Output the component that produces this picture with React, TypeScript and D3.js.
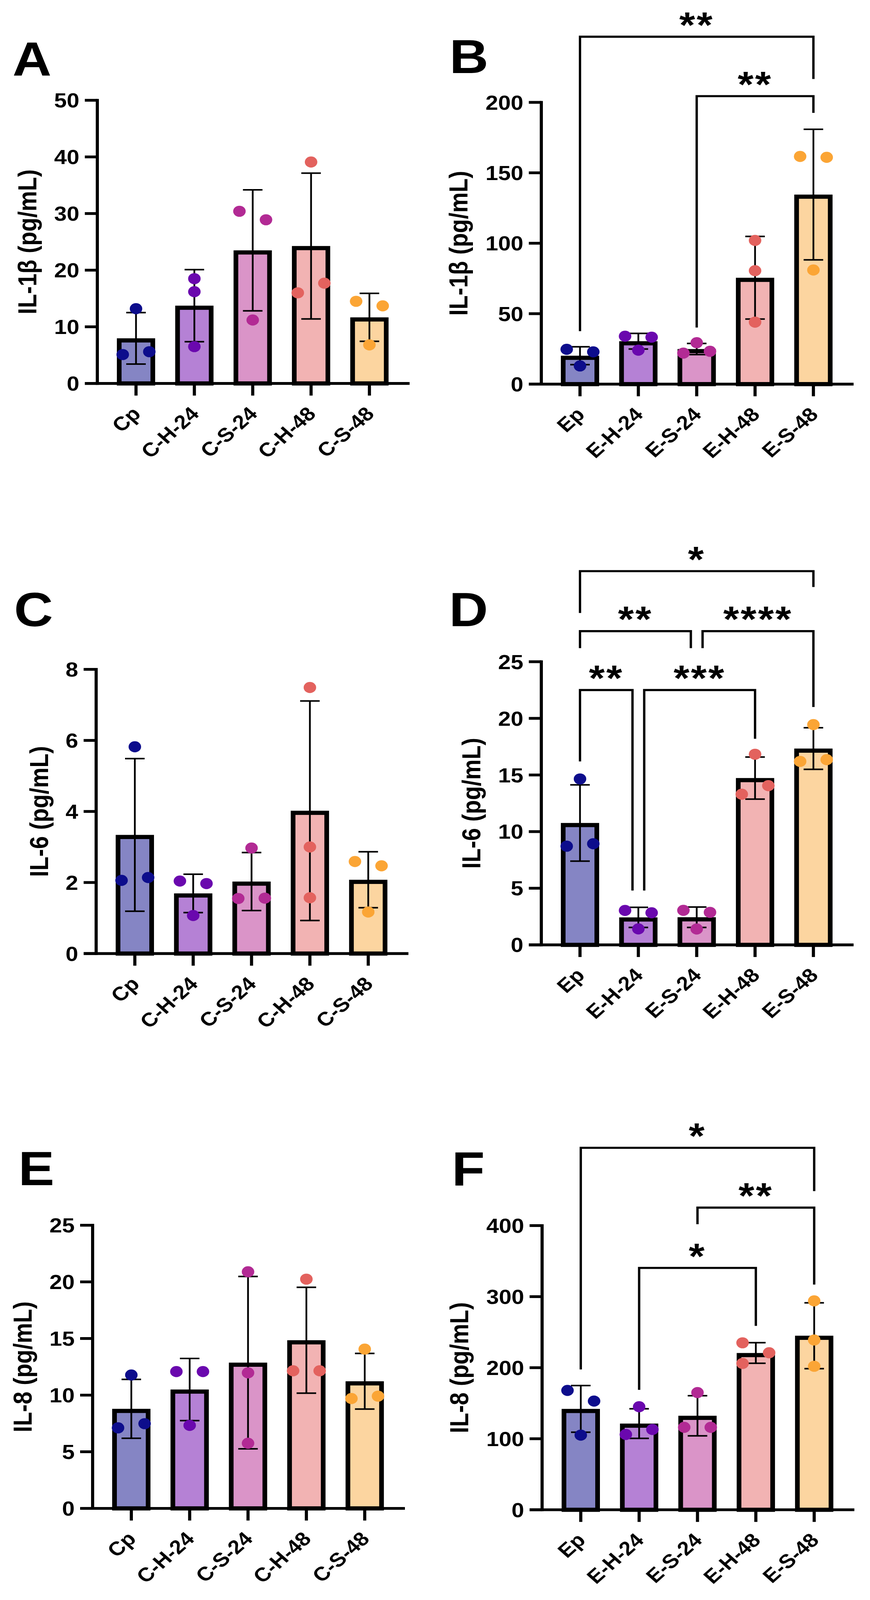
import React, { useEffect } from "react";
import * as d3 from "d3";

// ---------- data ----------
const cCats = ["Cp", "C-H-24", "C-S-24", "C-H-48", "C-S-48"];
const eCats = ["Ep", "E-H-24", "E-S-24", "E-H-48", "E-S-48"];

// replicate values per group (bar = mean, error bar = SD)
const il1bC = [[13.2, 5.1, 5.6], [18.5, 16.2, 6.5], [30.4, 28.9, 11.2], [39.1, 16.0, 17.7], [14.5, 13.7, 6.8]];
const il1bE = [[24.7, 22.9, 12.9], [34.0, 33.3, 24.1], [22.0, 23.3, 29.4], [102, 80.5, 44], [161.6, 161, 81]];
const il6C = [[5.82, 2.06, 2.14], [2.04, 1.97, 1.07], [2.97, 1.55, 1.56], [7.49, 3.0, 1.57], [2.59, 2.47, 1.17]];
const il6E = [[14.65, 8.71, 8.93], [3.04, 2.83, 1.41], [3.05, 2.87, 1.4], [16.83, 13.3, 14.06], [19.45, 16.2, 16.35]];
const il8C = [[11.78, 7.11, 7.48], [12.08, 12.08, 7.33], [20.89, 11.97, 5.75], [20.24, 12.15, 12.15], [14.06, 9.7, 9.91]];
const il8E = [[168, 153, 105], [145, 106, 113], [165, 116, 116], [235, 221, 206], [294, 239, 202]];

const ticksA = [0, 10, 20, 30, 40, 50];
const ticksB = [0, 50, 100, 150, 200];
const ticksC = [0, 2, 4, 6, 8];
const ticksD = [0, 5, 10, 15, 20, 25];
const ticksE = [0, 5, 10, 15, 20, 25];
const ticksF = [0, 100, 200, 300, 400];

// significance comparisons: groups a-b, bracket level, leg ends (data units), label
const sigA: any[] = [];
const sigB = [
  { a: 0, b: 4, y: 246.6, la: 37.6, lb: 216.6, t: "**" },
  { a: 2, b: 4, y: 204.4, la: 40.2, lb: 192.5, t: "**" },
];
const sigC: any[] = [];
const sigD = [
  { a: 0, b: 4, y: 33.0, la: 29.3, lb: 31.6, t: "*" },
  { a: 0, b: 2, y: 27.7, la: 26.2, lb: 26.2, t: "**" },
  { a: 2, b: 4, y: 27.7, la: 26.2, lb: 21.0, t: "****" },
  { a: 0, b: 1, y: 22.5, la: 16.2, lb: 4.8, t: "**" },
  { a: 1, b: 3, y: 22.5, la: 4.8, lb: 18.2, t: "***" },
];
const sigE: any[] = [];
const sigF = [
  { a: 0, b: 4, y: 509.5, la: 197.6, lb: 448.5, t: "*" },
  { a: 2, b: 4, y: 425.3, la: 402, lb: 317, t: "**" },
  { a: 1, b: 3, y: 340.4, la: 168.8, lb: 258.9, t: "*" },
];

const fills = ["#8585C4", "#B581D5", "#DA94C8", "#F2B3B3", "#FCD5A0"];
const dotColors = ["#0D0D8C", "#6A08AE", "#B22A94", "#E3625E", "#FBA535"];

// ---------- layout ----------
const FONT = "'Liberation Sans', Arial, Helvetica, sans-serif";
const panels = [
  { letter: "A", title: "IL-1β (pg/mL)", cats: cCats, data: il1bC, ticks: ticksA, sig: sigA, axisX: 249, zeroY: 1105, topY: 289, lx: 32, ly: 218 },
  { letter: "B", title: "IL-1β (pg/mL)", cats: eCats, data: il1bE, ticks: ticksB, sig: sigB, axisX: 1385, zeroY: 1107, topY: 295, lx: 1150, ly: 211 },
  { letter: "C", title: "IL-6 (pg/mL)", cats: cCats, data: il6C, ticks: ticksC, sig: sigC, axisX: 246, zeroY: 2748, topY: 1929, lx: 36, ly: 1805 },
  { letter: "D", title: "IL-6 (pg/mL)", cats: eCats, data: il6E, ticks: ticksD, sig: sigD, axisX: 1385, zeroY: 2723, topY: 1907, lx: 1149, ly: 1805 },
  { letter: "E", title: "IL-8 (pg/mL)", cats: cCats, data: il8C, ticks: ticksE, sig: sigE, axisX: 237, zeroY: 4347, topY: 3531, lx: 47, ly: 3416 },
  { letter: "F", title: "IL-8 (pg/mL)", cats: eCats, data: il8E, ticks: ticksF, sig: sigF, axisX: 1387, zeroY: 4351, topY: 3532, lx: 1156, ly: 3417 },
];

const STEP = 149.3;
const FIRST = 99;
const BAR_W = 86;
const BAR_STROKE = 12;
const R = 16;
const SPREAD = 34;
const AXIS_W = 8;

function Panel({ p }: { p: any }) {
  const max = p.ticks[p.ticks.length - 1];
  const y = d3.scaleLinear().domain([0, max]).range([p.zeroY, p.topY]);
  const x = d3.scalePoint<string>().domain(p.cats).range([p.axisX + FIRST, p.axisX + FIRST + 4 * STEP]);
  const stats = p.data.map((v: number[]) => ({ mean: d3.mean(v) as number, sd: d3.deviation(v) as number }));

  // simple beeswarm: overlapping points are spread to the sides of the bar centre
  const swarm = p.data.map((vals: number[]) => {
    const placed: { v: number; slot: number }[] = [];
    const hits = (v: number, slot: number | null) =>
      placed.filter((q) => (slot === null || q.slot === slot) && Math.abs(y(q.v) - y(v)) < 2 * R);
    vals.forEach((v) => {
      const centre = hits(v, 0);
      if (centre.length) {
        centre.forEach((q) => (q.slot = -1));
        placed.push({ v, slot: 1 });
      } else if (hits(v, null).length) {
        const side = [-1, 1].find((s) => hits(v, s).length === 0);
        placed.push({ v, slot: side === undefined ? 0 : side });
      } else placed.push({ v, slot: 0 });
    });
    return placed;
  });

  const digits = d3.max(p.ticks, (t: number) => String(t).length) as number;
  const titleX = p.axisX - (90 + 33 * digits);
  const midY = (p.zeroY + p.topY) / 2;

  return (
    <g>
      <text x={p.lx} y={p.ly} fontSize={138} fontWeight="bold" fontFamily={FONT}>
        {p.letter}
      </text>
      {/* bars */}
      {p.cats.map((c: string, i: number) => {
        const top = y(stats[i].mean) + BAR_STROKE / 2;
        return (
          <rect
            key={"b" + i}
            x={(x(c) as number) - BAR_W / 2}
            y={top}
            width={BAR_W}
            height={Math.max(0, p.zeroY - top)}
            fill={fills[i]}
            stroke="#000"
            strokeWidth={BAR_STROKE}
          />
        );
      })}
      {/* error bars */}
      {p.cats.map((c: string, i: number) => {
        const cx = x(c) as number;
        const hi = y(stats[i].mean + stats[i].sd);
        const lo = y(Math.max(0, stats[i].mean - stats[i].sd));
        return (
          <g key={"e" + i} stroke="#000" strokeWidth={4.5}>
            <line x1={cx} x2={cx} y1={hi} y2={lo} />
            <line x1={cx - 25} x2={cx + 25} y1={hi} y2={hi} />
            <line x1={cx - 25} x2={cx + 25} y1={lo} y2={lo} />
          </g>
        );
      })}
      {/* points */}
      {p.cats.map((c: string, i: number) =>
        swarm[i].map((d: any, k: number) => (
          <circle key={"d" + i + "_" + k} cx={(x(c) as number) + d.slot * SPREAD} cy={y(d.v)} r={R} fill={dotColors[i]} />
        ))
      )}
      {/* y axis */}
      <line x1={p.axisX} x2={p.axisX} y1={p.zeroY} y2={p.topY} stroke="#000" strokeWidth={AXIS_W} strokeLinecap="square" />
      {p.ticks.map((t: number) => (
        <g key={"t" + t}>
          <line x1={p.axisX - 32} x2={p.axisX} y1={y(t)} y2={y(t)} stroke="#000" strokeWidth={AXIS_W} />
          <text x={p.axisX - 46} y={y(t)} dy="0.36em" textAnchor="end" fontSize={58} fontWeight="bold" fontFamily={FONT}>
            {t}
          </text>
        </g>
      ))}
      {/* x axis */}
      <line x1={p.axisX - 32} x2={p.axisX + 799} y1={p.zeroY} y2={p.zeroY} stroke="#000" strokeWidth={AXIS_W} />
      {p.cats.map((c: string) => {
        const cx = x(c) as number;
        return (
          <g key={"x" + c}>
            <line x1={cx} x2={cx} y1={p.zeroY} y2={p.zeroY + 35} stroke="#000" strokeWidth={AXIS_W} />
            <text
              transform={`translate(${cx + 15},${p.zeroY + 91}) rotate(-45)`}
              textAnchor="end"
              fontSize={56}
              fontWeight="bold"
              fontFamily={FONT}
            >
              {c}
            </text>
          </g>
        );
      })}
      {/* axis title */}
      <text
        transform={`translate(${titleX},${midY}) rotate(-90)`}
        textAnchor="middle"
        fontSize={66}
        fontWeight="bold"
        fontFamily={FONT}
      >
        {p.title}
      </text>
      {/* significance brackets */}
      {p.sig.map((s: any, k: number) => {
        const sameLevel = p.sig.filter((o: any) => o !== s && o.y === s.y);
        const shL = sameLevel.some((o: any) => o.b === s.a) ? 15 : 0;
        const shR = sameLevel.some((o: any) => o.a === s.b) ? -15 : 0;
        const x1 = (x(p.cats[s.a]) as number) + shL;
        const x2 = (x(p.cats[s.b]) as number) + shR;
        const yl = y(s.y);
        return (
          <g key={"s" + k}>
            <path
              d={`M${x1},${y(s.la)}V${yl}H${x2}V${y(s.lb)}`}
              fill="none"
              stroke="#000"
              strokeWidth={6}
              strokeLinejoin="miter"
            />
            <text
              x={(x1 + x2) / 2}
              y={yl + 2}
              textAnchor="middle"
              fontSize={104}
              fontWeight="bold"
              letterSpacing={4}
              fontFamily={FONT}
            >
              {s.t}
            </text>
          </g>
        );
      })}
    </g>
  );
}

export default function App() {
  useEffect(() => {
    document.documentElement.style.margin = "0";
    document.documentElement.style.overflow = "hidden";
    document.body.style.margin = "0";
    document.body.style.overflow = "hidden";
    document.body.style.background = "#fff";
  }, []);
  return (
    <svg
      viewBox="0 0 2226 4611"
      preserveAspectRatio="none"
      style={{ display: "block", width: "100vw", height: "100vh", background: "#fff" }}
    >
      <rect x={0} y={0} width={2226} height={4611} fill="#fff" />
      {panels.map((p) => (
        <Panel key={p.letter} p={p} />
      ))}
    </svg>
  );
}
